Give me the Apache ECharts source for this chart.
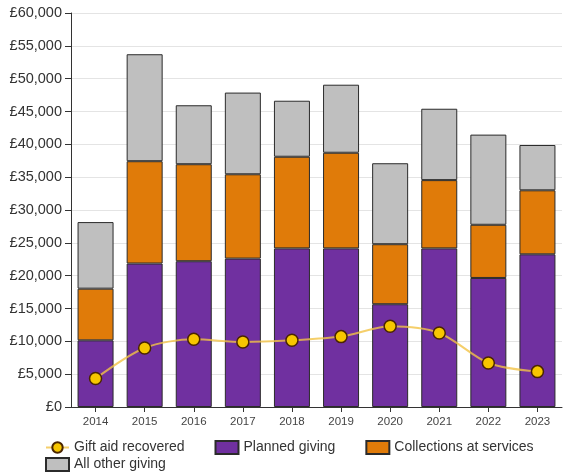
<!DOCTYPE html>
<html>
<head>
<meta charset="utf-8">
<script src="https://cdn.jsdelivr.net/npm/echarts@6/dist/echarts.min.js"></script>
<style>
  html, body { margin: 0; padding: 0; background: #fff; }
  #chart { width: 565px; height: 474px; }
</style>
</head>
<body>
<div id="chart"></div>
<script>
// data
const years = ['2014', '2015', '2016', '2017', '2018', '2019', '2020', '2021', '2022', '2023'];
const plannedGiving = [10150, 21850, 22200, 22600, 24150, 24150, 15650, 24150, 19650, 23250];
const collections = [7870, 15580, 14770, 12840, 13960, 14570, 9140, 10400, 8100, 9750];
const otherGiving = [10140, 16290, 8980, 12440, 8530, 10360, 12330, 10870, 13730, 6900];
const giftAid = [4330, 8980, 10310, 9900, 10160, 10720, 12290, 11270, 6700, 5390];

const font = '"Liberation Sans", Arial, sans-serif';

let myChart = echarts.init(document.getElementById('chart'));

let barStyle = function (color) {
    return { color: color, borderColor: '#2b2b2b', borderWidth: 1 };
};

// two legends so the last item sits on its own row, like the original
let legendBase = {
    padding: 0,
    itemWidth: 23,
    itemHeight: 13,
    itemGap: 30,
    textStyle: { fontSize: 14, color: '#333', fontFamily: font }
};

myChart.setOption({
    animation: false,
    textStyle: { fontFamily: font },
    grid: { left: 71, right: 3, top: 13, bottom: 67 },
    legend: [
        Object.assign({}, legendBase, {
            left: 45,
            top: 440,
            data: [
                { name: 'Gift aid recovered' },
                { name: 'Planned giving', icon: 'rect' },
                { name: 'Collections at services', icon: 'rect' }
            ]
        }),
        Object.assign({}, legendBase, {
            left: 45,
            top: 457,
            data: [{ name: 'All other giving', icon: 'rect' }]
        })
    ],
    xAxis: {
        type: 'category',
        data: years,
        axisLine: { lineStyle: { color: '#333' } },
        axisTick: { show: true, alignWithLabel: true, length: 5, lineStyle: { color: '#333' } },
        axisLabel: { fontSize: 11.5, color: '#444', margin: 9 }
    },
    yAxis: {
        type: 'value',
        min: 0,
        max: 60000,
        interval: 5000,
        axisLine: { show: true, lineStyle: { color: '#333' } },
        axisTick: { show: true, length: 6, lineStyle: { color: '#333' } },
        splitLine: { lineStyle: { color: '#e4e4e4' } },
        axisLabel: {
            fontSize: 14.5,
            color: '#333',
            margin: 9,
            formatter: function (v) { return '£' + v.toLocaleString('en-GB'); }
        }
    },
    series: [
        {
            name: 'Planned giving',
            type: 'bar',
            stack: 'total',
            barWidth: 36,
            itemStyle: barStyle('#7030a0'),
            data: plannedGiving
        },
        {
            name: 'Collections at services',
            type: 'bar',
            stack: 'total',
            itemStyle: barStyle('#e07b09'),
            data: collections
        },
        {
            name: 'All other giving',
            type: 'bar',
            stack: 'total',
            itemStyle: barStyle('#bfbfbf'),
            data: otherGiving
        },
        {
            name: 'Gift aid recovered',
            type: 'line',
            smooth: 0.3,
            symbol: 'circle',
            symbolSize: 12,
            z: 5,
            lineStyle: { color: 'rgba(242, 195, 70, 0.8)', width: 2 },
            itemStyle: { color: '#f7c600', borderColor: '#4a2500', borderWidth: 1.5 },
            data: giftAid
        }
    ]
});
</script>
</body>
</html>
